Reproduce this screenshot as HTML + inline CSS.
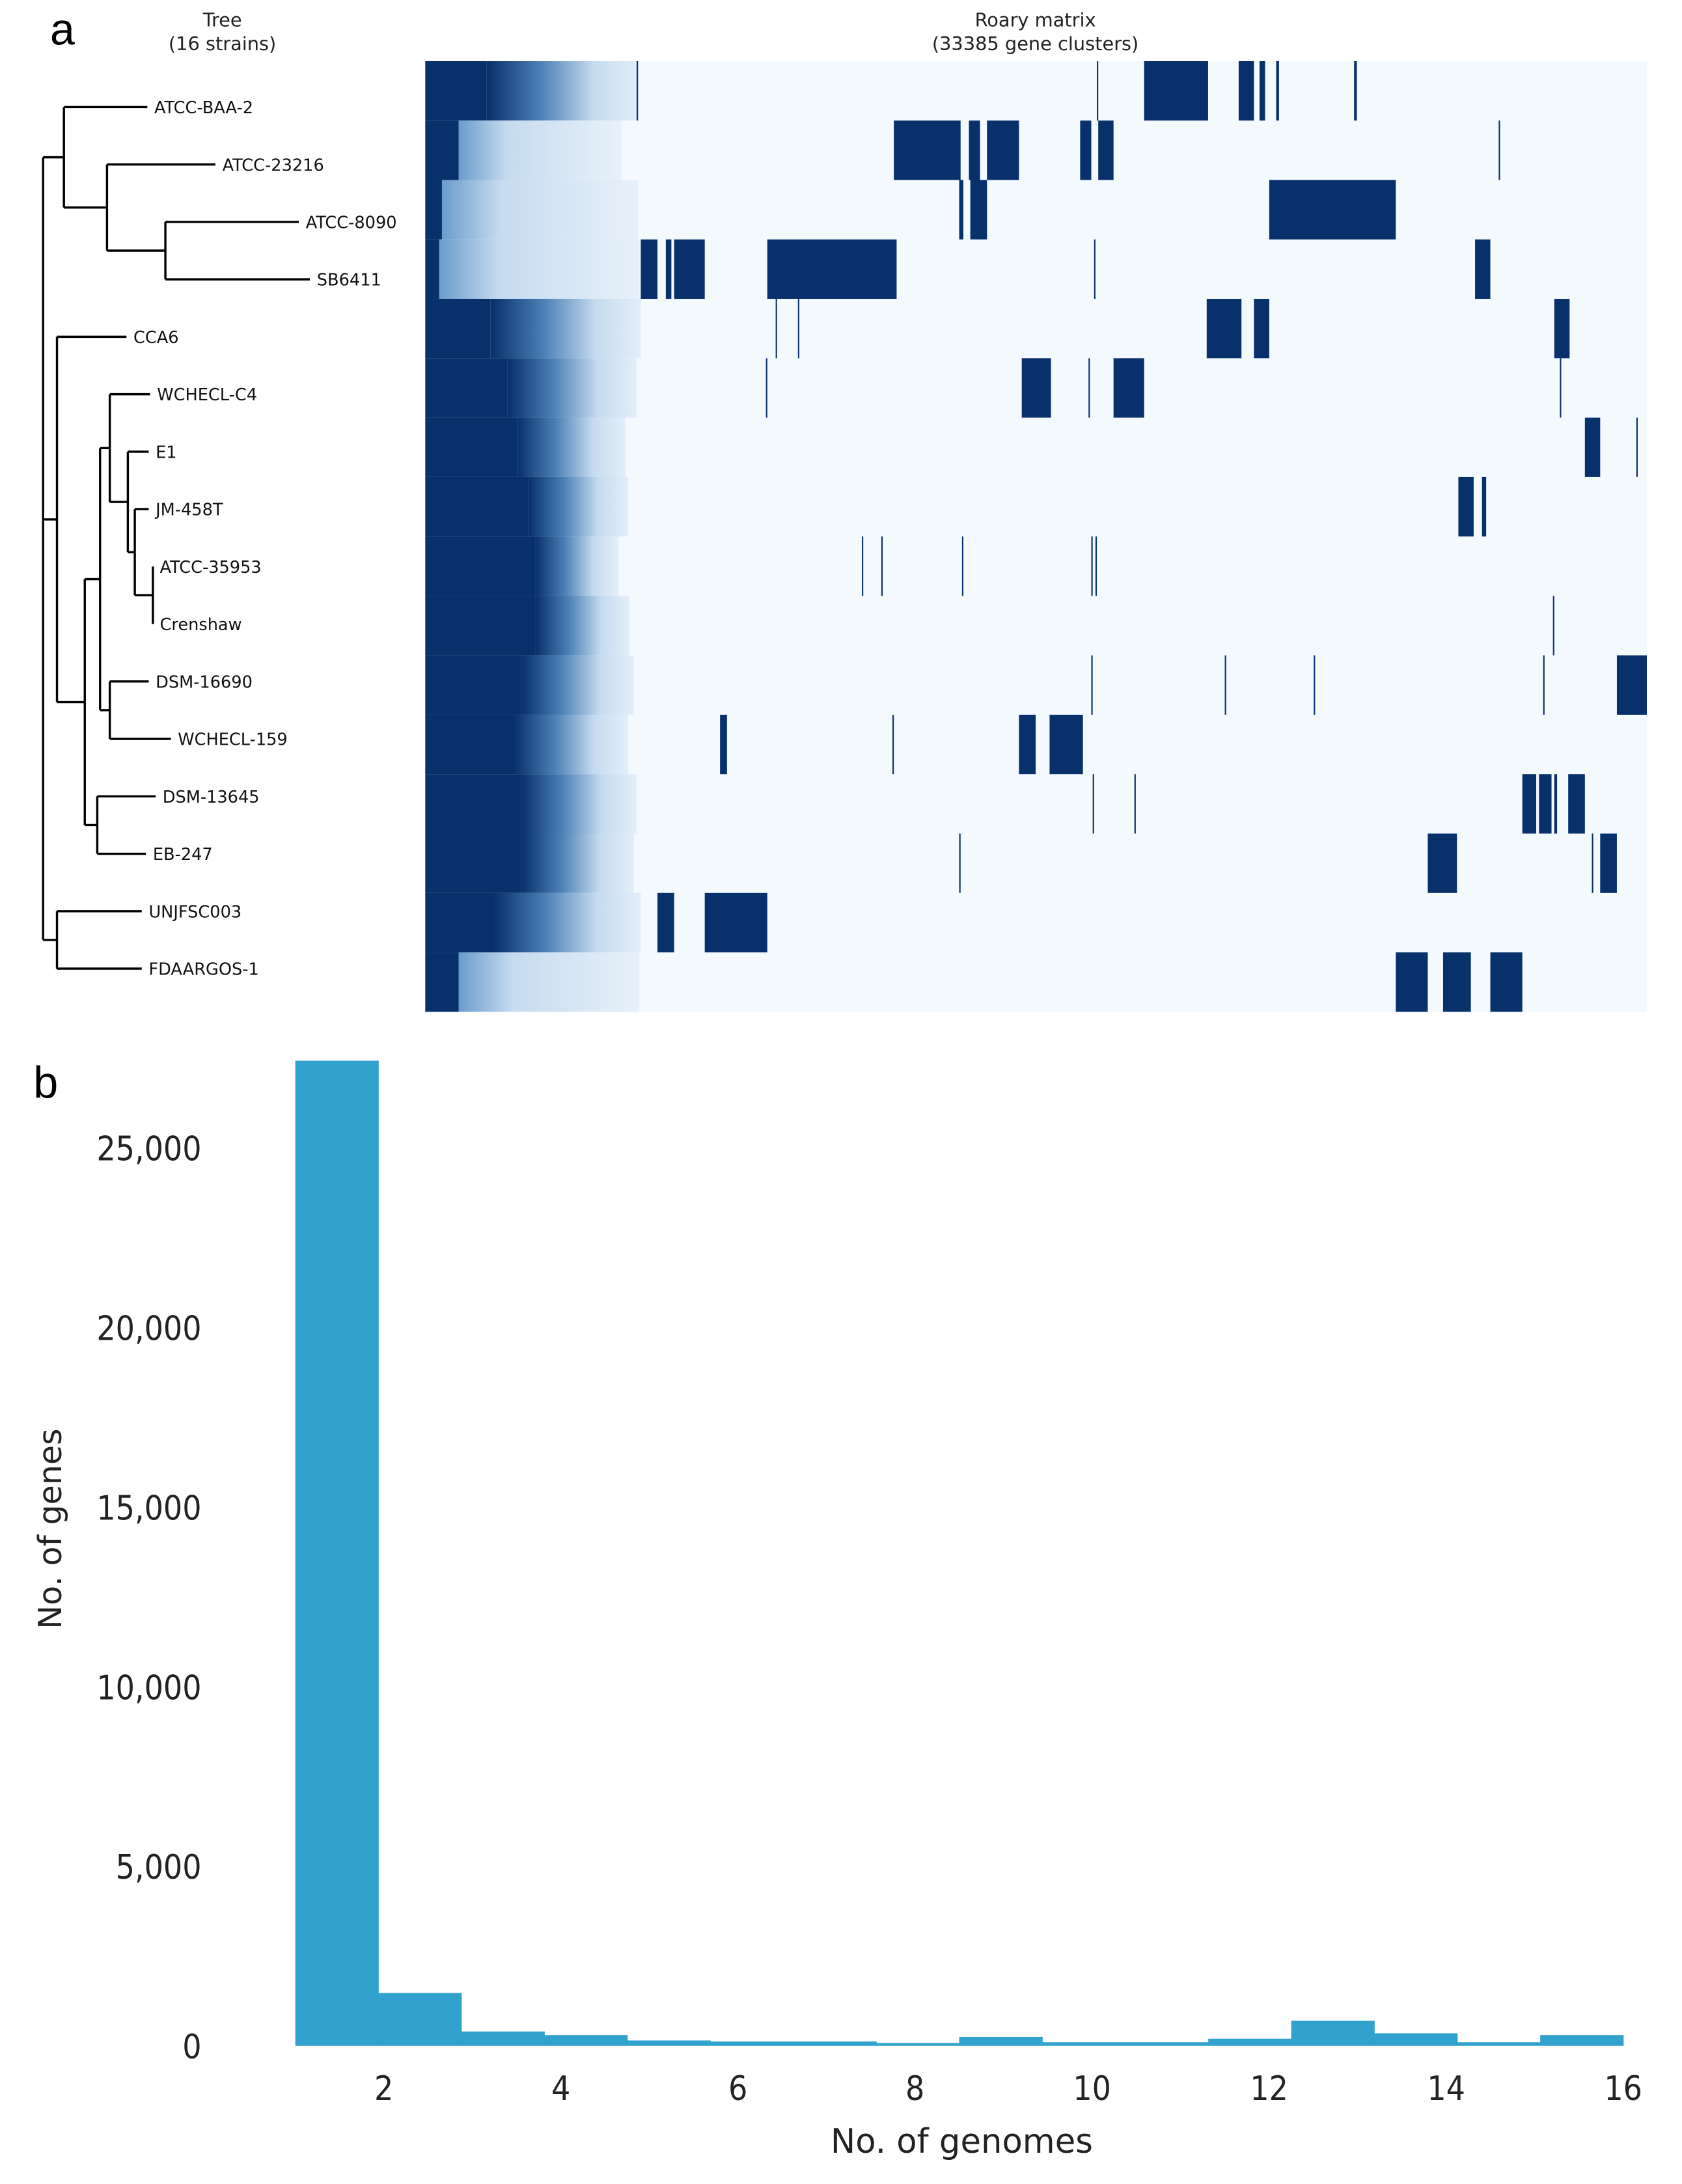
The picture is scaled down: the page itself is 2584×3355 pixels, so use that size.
<!DOCTYPE html>
<html><head><meta charset="utf-8"><style>
html,body{margin:0;padding:0;background:#fff}
svg{display:block}
</style></head><body>
<svg id="fig" xmlns="http://www.w3.org/2000/svg" width="2584" height="3355" viewBox="0 0 1210.3 1571.4">
<defs>
<linearGradient id="zoneGrad" x1="0" x2="1" y1="0" y2="0">
<stop offset="0" stop-color="#08306b"/><stop offset="0.35" stop-color="#4a7fb5"/><stop offset="0.7" stop-color="#c6dbef"/><stop offset="1" stop-color="#e3eef9"/>
</linearGradient>
<linearGradient id="zoneGradLight" x1="0" x2="1" y1="0" y2="0">
<stop offset="0" stop-color="#6a9ccb"/><stop offset="0.3" stop-color="#c6dbef"/><stop offset="1" stop-color="#e8f1fa"/>
</linearGradient>
</defs>
<rect width="1210.3" height="1571.4" fill="#fff"/>
<text x="36" y="32" font-family="Liberation Sans, sans-serif" font-size="32">a</text>
<text x="160" y="19" text-anchor="middle" font-family="DejaVu Sans, sans-serif" font-size="13.5" fill="#222">Tree</text>
<text x="160" y="36" text-anchor="middle" font-family="DejaVu Sans, sans-serif" font-size="13.5" fill="#222">(16 strains)</text>
<text x="745" y="19" text-anchor="middle" font-family="DejaVu Sans, sans-serif" font-size="13.5" fill="#222">Roary matrix</text>
<text x="745" y="36" text-anchor="middle" font-family="DejaVu Sans, sans-serif" font-size="13.5" fill="#222">(33385 gene clusters)</text>
<g id="tree" stroke="#000" stroke-width="1.6" fill="none"></g>
<g id="matrix"></g>
<text x="24" y="790" font-family="Liberation Sans, sans-serif" font-size="32">b</text>
<g id="hist"></g>
<text transform="translate(44,1100) rotate(-90)" text-anchor="middle" font-family="DejaVu Sans, sans-serif" font-size="23" fill="#222">No. of genes</text>
<text x="692" y="1549" text-anchor="middle" font-family="DejaVu Sans, sans-serif" font-size="24" fill="#222">No. of genomes</text>
</svg>
<script>
// ---------- Tree ----------
const strains = ["ATCC-BAA-2","ATCC-23216","ATCC-8090","SB6411","CCA6","WCHECL-C4","E1","JM-458T","ATCC-35953","Crenshaw","DSM-16690","WCHECL-159","DSM-13645","EB-247","UNJFSC003","FDAARGOS-1"];
const leafDepth = [106,155,215,223,91,108,107,107,110,110,107,123,112,105,102,102];
const nodeDepth = {root:31,A:46,B:77,C:119,D:41,E:61,F:72,G:79,H:92,I:97,J:110,K:79,L:70,M:41};
const nodeKids = {root:["A","D","M"],A:[0,"B"],B:[1,"C"],C:[2,3],D:[4,"E"],E:["F","L"],F:["G","K"],G:[5,"H"],H:[6,"I"],I:[7,"J"],J:[8,9],K:[10,11],L:[12,13],M:[14,15]};
const svgNS="http://www.w3.org/2000/svg";
const tree=document.getElementById('tree');
const leafY=i=>77+i*41.33;
function nodeY(n){ if(typeof n==='number') return leafY(n); const ys=nodeKids[n].map(nodeY); return (Math.min(...ys)+Math.max(...ys))/2;}
function depth(n){return typeof n==='number'?leafDepth[n]:nodeDepth[n];}
function line(x1,y1,x2,y2){const l=document.createElementNS(svgNS,'line');l.setAttribute('x1',x1);l.setAttribute('y1',y1);l.setAttribute('x2',x2);l.setAttribute('y2',y2);


tree.appendChild(l);}
function drawNode(n,px){
  const y=nodeY(n),x=depth(n);
  if(px!==null) line(px,y,x,y);
  if(typeof n==='number'){
    const t=document.createElementNS(svgNS,'text');
    t.setAttribute('x',x+5);t.setAttribute('y',y+4.5);
    t.setAttribute('font-family','DejaVu Sans, sans-serif');t.setAttribute('font-size','12');
    t.setAttribute('fill','#111');t.setAttribute('stroke','none');
    t.textContent=strains[n];
    
    
    tree.appendChild(t);return;
  }
  const ys=nodeKids[n].map(nodeY);
  line(x,Math.min(...ys),x,Math.max(...ys));
  nodeKids[n].forEach(k=>drawNode(k,x));
}
drawNode('root',null);

// ---------- Matrix ----------
const nClusters=33385;
const coreEnd=[1672,912,456,380,1786,2242,2508,2812,3002,3002,2622,2432,2622,2622,1862,912];
const zoneEnd=[5852,5358,5814,5852,5890,5776,5472,5548,5282,5586,5700,5548,5776,5700,5890,5852];
const zoneStyle=["dark","light","light","light","dark","dark","dark","dark","dark","dark","dark","dark","dark","dark","dark","light"];
const blocks=[
 [[19646,21394],[22230,22648],[22800,22952],[23256,23332],[25384,25460],[18354,18392],[5776,5814]],
 [[12806,14630],[14858,15162],[15352,16226],[17898,18202],[18392,18810],[29336,29374]],
 [[14592,14706],[14896,15352],[23066,26524]],
 [[5890,6346],[6574,6726],[6802,7638],[9348,12882],[28690,29108],[18278,18316]],
 [[21356,22306],[22648,23066],[30856,31274],[9576,9614],[10184,10222]],
 [[16302,17100],[18810,19646],[31008,31046],[9310,9348],[18126,18164]],
 [[31692,32110],[33098,33136]],
 [[28234,28652],[28880,28994]],
 [[11932,11970],[12464,12502],[14668,14706],[18202,18240],[18316,18354]],
 [[30818,30856]],
 [[32566,33385],[18202,18240],[21850,21888],[24282,24320],[30552,30590]],
 [[8056,8246],[16226,16682],[17062,17974],[12768,12806]],
 [[29982,30362],[30438,30780],[30856,30932],[31236,31692],[18240,18278],[19380,19418]],
 [[27398,28196],[32110,32566],[14592,14630],[31882,31920]],
 [[6346,6802],[7638,9348]],
 [[26524,27398],[27816,28576],[29108,29982]]
];
const mx0=306,mx1=1185,my0=44,my1=728;
const rowH=(my1-my0)/strains.length;
const xS=v=>mx0+v/nClusters*(mx1-mx0);
const matrix=document.getElementById('matrix');
function rect(g,x,y,w,h,fill,name){const r=document.createElementNS(svgNS,'rect');r.setAttribute('x',x);r.setAttribute('y',y);r.setAttribute('width',w);r.setAttribute('height',h);r.setAttribute('fill',fill);


g.appendChild(r);return r;}
rect(matrix,mx0,my0,mx1-mx0,my1-my0,'#f4f9fe','matrix-background');
strains.forEach((s,i)=>{
  const y=my0+i*rowH;
  rect(matrix,xS(coreEnd[i]),y,xS(zoneEnd[i])-xS(coreEnd[i]),rowH,zoneStyle[i]==='light'?'url(#zoneGradLight)':'url(#zoneGrad)','accessory-zone');
  rect(matrix,xS(0),y,xS(coreEnd[i])-xS(0),rowH,'#08306b','core-block');
  blocks[i].forEach(b=>rect(matrix,xS(b[0]),y,Math.max(xS(b[1])-xS(b[0]),0.9),rowH,'#08306b','gene-block'));
});

// ---------- Histogram ----------
const binCounts=[27430,1470,400,300,150,120,120,80,250,100,100,200,700,350,100,300];
const xTicks=[2,4,6,8,10,12,14,16];
const yTicks=[0,5000,10000,15000,20000,25000];
const yTickLabels=["0","5,000","10,000","15,000","20,000","25,000"];
const hx=v=>212.5+(v-1)*(1168-212.5)/15;
const hy=v=>1472-v*0.02584;
const hist=document.getElementById('hist');
const bw=15/binCounts.length;
binCounts.forEach((c,i)=>{
  const a=1+i*bw,b=a+bw;
  rect(hist,hx(a),hy(c),hx(b)-hx(a)+0.3,hy(0)-hy(c),'#31a1cd','histogram-bar');
});
function txt(x,y,s,anchor,name){const t=document.createElementNS(svgNS,'text');t.setAttribute('x',x);t.setAttribute('y',y);t.setAttribute('text-anchor',anchor);
t.setAttribute('font-family','DejaVu Sans Condensed, DejaVu Sans, sans-serif');t.setAttribute('font-size','24');t.setAttribute('fill','#222');
t.setAttribute('font-stretch','condensed');
t.textContent=s;


hist.appendChild(t);}
yTicks.forEach((v,i)=>txt(145,hy(v)+9,yTickLabels[i],'end','y-tick-label'));
xTicks.forEach(v=>txt(hx(v),1511,String(v),'middle','x-tick-label'));
</script>
</body></html>
